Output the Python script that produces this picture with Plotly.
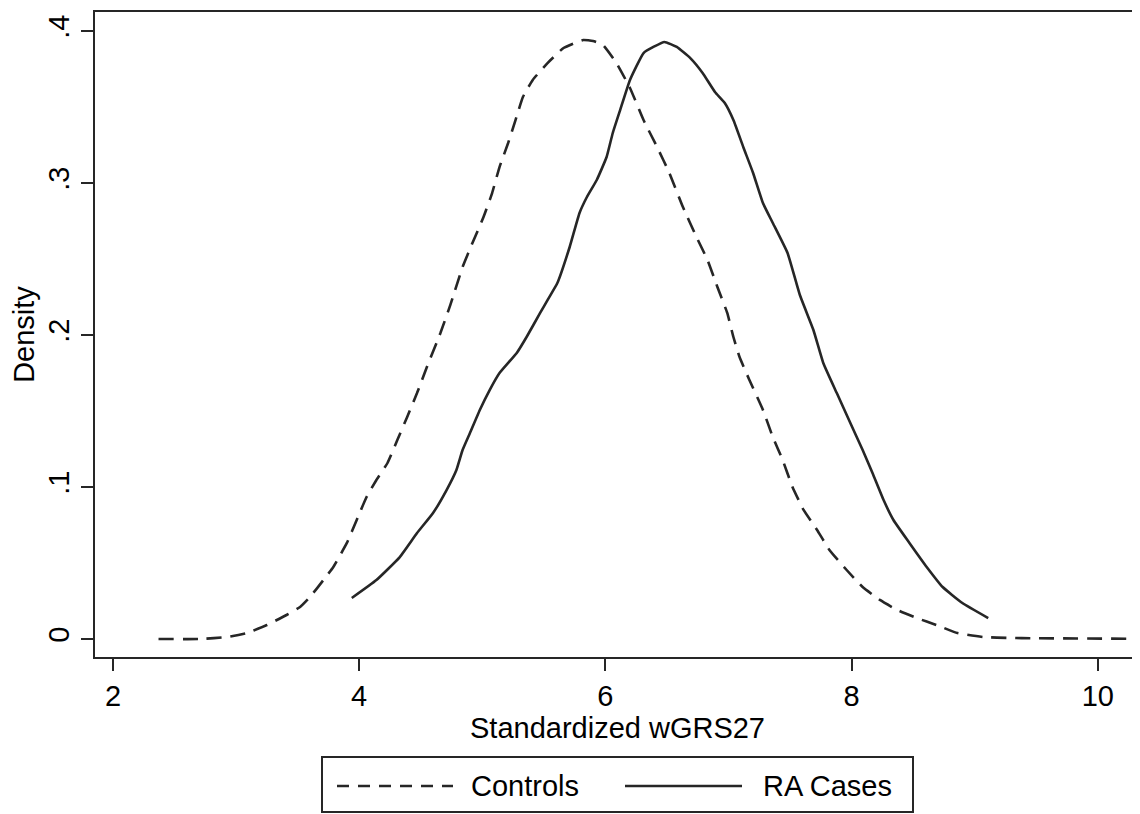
import plotly.graph_objects as go

# ---- data ----
controls_x = [2.37, 2.71, 2.93, 3.09, 3.25, 3.41, 3.52, 3.60, 3.71, 3.79, 3.90, 3.98, 4.06, 4.14,
              4.23, 4.31, 4.39, 4.47, 4.55, 4.66, 4.74, 4.84, 4.92, 5.01, 5.08, 5.14, 5.21, 5.27,
              5.33, 5.41, 5.53, 5.66, 5.82, 5.90, 5.98, 6.09, 6.20, 6.31, 6.42, 6.52, 6.63, 6.74,
              6.83, 6.91, 6.99, 7.04, 7.09, 7.17, 7.28, 7.36, 7.44, 7.52, 7.61, 7.72, 7.82, 7.96,
              8.09, 8.23, 8.37, 8.53, 8.69, 8.86, 9.07, 9.29, 9.47, 10.24]
controls_y = [0.0000, 0.0000, 0.0013, 0.0039, 0.0092, 0.0158, 0.0211, 0.0276, 0.0388, 0.0474,
              0.0632, 0.0783, 0.0934, 0.1046, 0.1158, 0.1309, 0.1461, 0.1618, 0.1789, 0.2013,
              0.2197, 0.2447, 0.2605, 0.2776, 0.2934, 0.3105, 0.3263, 0.3414, 0.3566, 0.3678,
              0.3789, 0.3888, 0.3941, 0.3934, 0.3908, 0.3789, 0.3625, 0.3414, 0.3237, 0.3066,
              0.2842, 0.2645, 0.2493, 0.2316, 0.2145, 0.1987, 0.1855, 0.1704, 0.1507, 0.1329,
              0.1178, 0.1000, 0.0849, 0.0717, 0.0586, 0.0454, 0.0342, 0.0257, 0.0191, 0.0138,
              0.0092, 0.0039, 0.0013, 0.0007, 0.0005, 0.0002]

cases_x = [3.94, 4.14, 4.33, 4.47, 4.60, 4.71, 4.79, 4.84, 4.90, 4.98, 5.06, 5.14, 5.28, 5.36,
           5.47, 5.53, 5.61, 5.71, 5.79, 5.85, 5.93, 6.01, 6.06, 6.12, 6.20, 6.31, 6.39, 6.48,
           6.58, 6.69, 6.79, 6.89, 6.97, 7.04, 7.12, 7.20, 7.28, 7.36, 7.48, 7.58, 7.69, 7.77,
           7.88, 7.99, 8.09, 8.17, 8.26, 8.34, 8.47, 8.61, 8.74, 8.90, 9.11]
cases_y = [0.0270, 0.0388, 0.0539, 0.0697, 0.0829, 0.0980, 0.1112, 0.1243, 0.1355, 0.1507,
           0.1638, 0.1750, 0.1882, 0.1987, 0.2145, 0.2230, 0.2342, 0.2579, 0.2803, 0.2908,
           0.3020, 0.3171, 0.3329, 0.3480, 0.3678, 0.3855, 0.3895, 0.3928, 0.3895, 0.3822,
           0.3724, 0.3599, 0.3526, 0.3414, 0.3237, 0.3066, 0.2868, 0.2737, 0.2539, 0.2263,
           0.2033, 0.1816, 0.1618, 0.1421, 0.1243, 0.1092, 0.0914, 0.0783, 0.0632, 0.0474,
           0.0342, 0.0237, 0.0138]

series_names = ["Controls", "RA Cases"]
x_ticks = [2, 4, 6, 8, 10]
x_tick_labels = ["2", "4", "6", "8", "10"]
y_ticks = [0, 0.1, 0.2, 0.3, 0.4]
y_tick_labels = ["0", ".1", ".2", ".3", ".4"]
x_title = "Standardized wGRS27"
y_title = "Density"

# ---- layout constants (page has an 8px body margin) ----
OFF = 8
W, H = 1140 - OFF, 814 - OFF
L, R, T, B = 95 - OFF, 0, 12 - OFF, H - (657 - OFF)
FONT = "Liberation Sans, Arial, sans-serif"
FS = 29
INK = "#262626"
LINE_W = 2.6

fig = go.Figure()
fig.add_trace(go.Scatter(x=controls_x, y=controls_y, mode="lines", name=series_names[0],
                         line=dict(color=INK, width=LINE_W, dash="15px,9px",
                                   shape="spline", smoothing=0.4),
                         showlegend=False))
fig.add_trace(go.Scatter(x=cases_x, y=cases_y, mode="lines", name=series_names[1],
                         line=dict(color=INK, width=LINE_W, shape="spline", smoothing=0.4),
                         showlegend=False))

pw = W - L - R
ph = H - T - B


def px(xp):
    return (xp - OFF - L) / pw


def py(yp):
    return (H - B - (yp - OFF)) / ph


# custom legend (box, samples, labels)
shapes = [
    dict(type="rect", xref="paper", yref="paper", x0=px(322), x1=px(913), y0=py(812), y1=py(757),
         line=dict(color=INK, width=2), fillcolor="white", layer="above"),
    dict(type="line", xref="paper", yref="paper", x0=px(337), x1=px(453), y0=py(786), y1=py(786),
         line=dict(color=INK, width=LINE_W, dash="12px,9px")),
    dict(type="line", xref="paper", yref="paper", x0=px(625), x1=px(742), y0=py(786), y1=py(786),
         line=dict(color=INK, width=LINE_W)),
]
annotations = [
    dict(text=series_names[0], xref="paper", yref="paper", x=px(469), y=py(786),
         xanchor="left", yanchor="middle", showarrow=False,
         font=dict(family=FONT, size=FS, color="black")),
    dict(text=series_names[1], xref="paper", yref="paper", x=px(894), y=py(786),
         xanchor="right", yanchor="middle", showarrow=False,
         font=dict(family=FONT, size=FS, color="black")),
]

fig.update_layout(
    width=W, height=H,
    margin=dict(l=L, r=R, t=T, b=B, pad=0),
    paper_bgcolor="white", plot_bgcolor="white",
    font=dict(family=FONT, size=FS, color="black"),
    shapes=shapes, annotations=annotations,
    xaxis=dict(range=[1.854, 10.343], tickvals=x_ticks, ticktext=x_tick_labels,
               showgrid=False, zeroline=False, showline=True, linecolor=INK, linewidth=2,
               mirror=True, ticks="outside", ticklen=12, tickwidth=2, tickcolor=INK,
               title=dict(text=x_title, standoff=0, font=dict(size=FS))),
    yaxis=dict(range=[-0.01184, 0.4125], tickvals=y_ticks, ticktext=y_tick_labels,
               showgrid=False, zeroline=False, showline=True, linecolor=INK, linewidth=2,
               ticks="outside", ticklen=12, tickwidth=2, tickcolor=INK, tickangle=-90,
               title=dict(text=y_title, standoff=4, font=dict(size=FS))),
)

fig.write_html("out.html")
